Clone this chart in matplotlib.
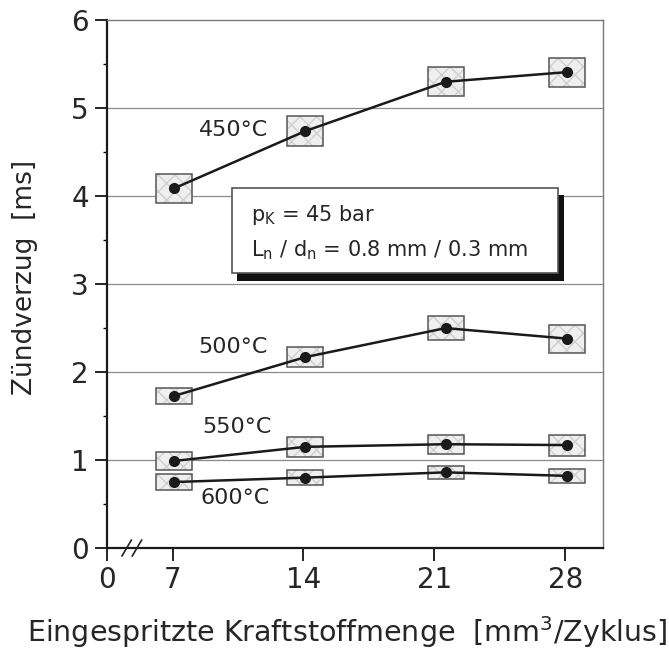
import matplotlib.pyplot as plt
from matplotlib.patches import Rectangle
import numpy as np

plt.rcParams['font.family'] = ['DejaVu Sans']

# injected fuel quantity [mm^3/cycle]
menge = [7.1, 14.1, 21.6, 28.1]

# ignition delay [ms] for each wall temperature
t_450 = [4.09, 4.74, 5.30, 5.41]
t_500 = [1.73, 2.17, 2.50, 2.38]
t_550 = [0.99, 1.15, 1.18, 1.17]
t_600 = [0.75, 0.80, 0.86, 0.82]

# half heights of the scatter boxes [ms]
d_450 = [0.165, 0.17, 0.165, 0.165]
d_500 = [0.09, 0.11, 0.14, 0.16]
d_550 = [0.10, 0.11, 0.11, 0.12]
d_600 = [0.09, 0.085, 0.075, 0.08]
dx = 0.96

labels = ["450°C", "500°C", "550°C", "600°C"]
label_pos = [(8.4, 4.75), (8.4, 2.28), (8.6, 1.375), (8.5, 0.57)]

xtick_pos = [3.5, 7, 14, 21, 28]
xtick_lab = ["0", "7", "14", "21", "28"]

txt = "#262626"

fig = plt.figure(figsize=(6.69, 6.52), dpi=100)
ax = fig.add_axes([0.160, 0.1595, 0.741, 0.8095])

ax.set_xlim(3.5, 30)
ax.set_ylim(0, 6)

for y in [1, 2, 3, 4, 5]:
    ax.axhline(y, color="#8a8a8a", lw=0.9, zorder=0)

series = [(t_450, d_450), (t_500, d_500), (t_550, d_550), (t_600, d_600)]
for t, d in series:
    for x, y, h in zip(menge, t, d):
        ax.add_patch(Rectangle((x - dx, y - h), 2 * dx, 2 * h,
                               facecolor="#efefef", edgecolor="#cfcfcf",
                               hatch="xx", lw=0, zorder=2))
        ax.add_patch(Rectangle((x - dx, y - h), 2 * dx, 2 * h,
                               facecolor="none", edgecolor="#555555",
                               lw=1.1, zorder=3))
    ax.plot(menge, t, color="#1a1a1a", lw=1.8, marker="o", ms=7,
            zorder=4)

for lab, (x, y) in zip(labels, label_pos):
    ax.text(x, y, lab, fontsize=16, color=txt, ha="left", va="center",
            zorder=5)

# info box with drop shadow
ax.add_patch(Rectangle((10.45, 3.04), 17.5, 0.97, facecolor="#111111",
                       edgecolor="none", zorder=5))
ax.add_patch(Rectangle((10.2, 3.125), 17.4, 0.965, facecolor="white",
                       edgecolor="#555555", lw=1.2, zorder=6))
ax.text(11.2, 3.78, r"$\mathregular{p_K}$ = 45 bar", fontsize=15,
        color=txt, va="center", zorder=7)
ax.text(11.2, 3.39, r"$\mathregular{L_n}$ / $\mathregular{d_n}$ = 0.8 mm / 0.3 mm",
        fontsize=15, color=txt, va="center", zorder=7)

# axis break marks
for xb in [4.55, 5.1]:
    ax.plot([xb - 0.25, xb + 0.25], [-0.09, 0.09], color="#222222", lw=1.2,
            clip_on=False, zorder=6)

ax.set_xticks(xtick_pos)
ax.set_xticklabels(xtick_lab)
ax.set_yticks(np.arange(0, 7, 1))
ax.set_yticks(np.arange(0.5, 6, 1), minor=True)
ax.tick_params(axis="both", which="major", direction="out", length=9,
               width=1.2, labelsize=20, labelcolor=txt, pad=4)
ax.tick_params(axis="y", which="minor", direction="out", length=3, width=1)

for s in ["left", "bottom"]:
    ax.spines[s].set_linewidth(1.6)
    ax.spines[s].set_color("#1a1a1a")
for s in ["top", "right"]:
    ax.spines[s].set_linewidth(1.0)
    ax.spines[s].set_color("#777777")

fig.text(347 / 669, 1 - 632 / 652, "Eingespritzte Kraftstoffmenge  [mm$^3$/Zyklus]",
         fontsize=20.5, color=txt, ha="center", va="center")
fig.text(25 / 669, 1 - 277 / 652, "Zündverzug  [ms]", fontsize=19, color=txt,
         ha="center", va="center", rotation=90)

fig.savefig("out.png", dpi=100)
